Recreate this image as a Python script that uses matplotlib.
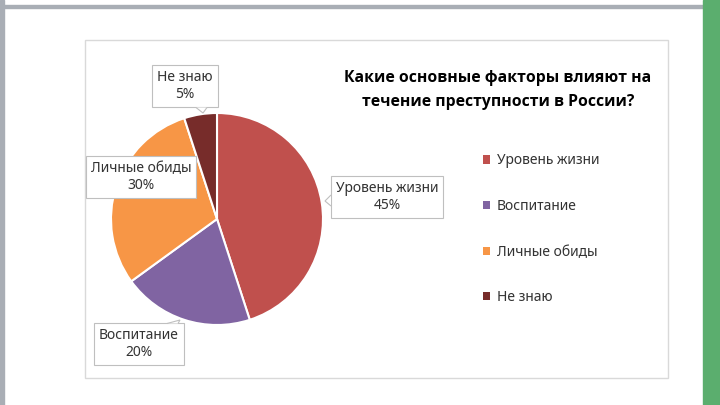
import matplotlib.pyplot as plt
from matplotlib.patches import Patch, Rectangle, Polygon

plt.rcParams['font.family'] = ['Noto Sans', 'DejaVu Sans']

categories = ['Уровень жизни', 'Воспитание', 'Личные обиды', 'Не знаю']
shares = [45, 20, 30, 5]
colors = ['#C0504D', '#8064A2', '#F79646', '#772C2A']
title = 'Какие основные факторы влияют на\nтечение преступности в России?'

H = 405
fig = plt.figure(figsize=(7.2, 4.05), dpi=100)
ax = fig.add_axes([0, 0, 1, 1])
ax.set_xlim(0, 720)
ax.set_ylim(0, H)
ax.set_aspect('equal')
ax.axis('off')

# frame of the slide / screenshot
ax.add_patch(Rectangle((0, 0), 4, H, color='#A9AEB5', zorder=0))
ax.add_patch(Rectangle((0, H - 8), 720, 3, color='#A9AEB5', zorder=0))
ax.add_patch(Rectangle((703, 0), 17, H, color='#5BAE6E', zorder=0))
ax.add_patch(Rectangle((85, H - 378), 583, 338, fill=False, ec='#D9D9D9', lw=1, zorder=0))

wedges, _ = ax.pie(shares, colors=colors, startangle=90, counterclock=False,
                   center=(217, H - 219), radius=106,
                   wedgeprops=dict(edgecolor='white', linewidth=1.5))
ax.set_xlim(0, 720)
ax.set_ylim(0, H)

# data labels
label_pos = [(387, 197), (139, 344), (141, 177), (185, 86)]
box = dict(boxstyle='square,pad=0.35', fc='white', ec='#BFBFBF', lw=0.8)
for name, val, (x, y) in zip(categories, shares, label_pos):
    ax.text(x, H - y, f'{name}\n{val}%', ha='center', va='center',
            fontsize=10, color='#333333', bbox=box, linespacing=1.25, zorder=5)

# little callout pointers
pointers = [
    [(331, 195), (325, 201), (331, 206)],
    [(196, 107.5), (203, 113), (207, 107.5)],
    [(167, 323.5), (180, 320), (178, 323.5)],
]
for pts in pointers:
    ax.add_patch(Polygon([(x, H - y) for x, y in pts], closed=False,
                         fc='white', ec='#BFBFBF', lw=0.8, zorder=6))

ax.text(498, H - 90, title, ha='center', va='center', fontsize=11.3,
        fontweight='bold', family=['Open Sans', 'DejaVu Sans'],
        color='black', linespacing=1.6)

handles = [Patch(facecolor=c, edgecolor='none') for c in colors]
leg = ax.legend(handles, categories, loc='upper left',
                bbox_to_anchor=(470 / 720, 1 - 141 / H), frameon=False,
                fontsize=10, handlelength=0.55, handleheight=0.55,
                handletextpad=0.5, labelspacing=2.2)
for t in leg.get_texts():
    t.set_color('#333333')

fig.savefig('out.png', dpi=100)
